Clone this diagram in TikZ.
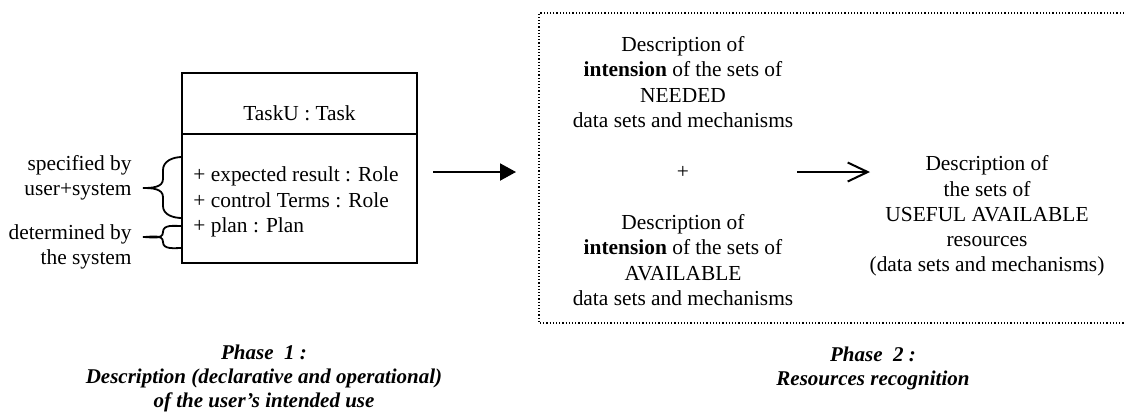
\documentclass[tikz,border=0pt]{standalone}
\usepackage{fontspec}
\setmainfont{Liberation Serif}
\usetikzlibrary{arrows.meta}
\usetikzlibrary{positioning}

\begin{document}
\begin{tikzpicture}[x=0.5pt, y=-0.5pt, font=\fontsize{10.7}{12.6}\selectfont,
  txt/.style={align=center, inner sep=0pt},
  phase/.style={align=center, inner sep=0pt, font=\fontsize{10.5}{12}\selectfont\bfseries\itshape},
  bracepath/.style={line width=0.9pt}]
\useasboundingbox (0,0) rectangle (1124,414);

%draw task box
\draw[line width=1pt] (182,73) rectangle (417,263);
\draw[line width=1pt] (182,134) -- (417,134);
\coordinate (taskE) at (417,172);
\node[txt] (title) at (299.5,113) {TaskU : Task};
\node[txt, align=left, anchor=west] (attrs) at (193,202) {+ expected result : Role\\+ control Terms : Role\\+ plan : Plan};

%draw braces
\draw[bracepath] (182,157) to[out=180,in=90] (163,170) -- (163,179) to[out=-90,in=0] (143,188)
  to[out=0,in=90] (163,197) -- (163,206) to[out=-90,in=180] (182,218);
\draw[bracepath] (182,226) to[out=180,in=90] (163,232) to[out=-90,in=0] (143,237)
  to[out=0,in=90] (163,242) to[out=-90,in=180] (182,248);
\node[txt, align=right, anchor=east] (spec) at (132,178) {specified by\\user+system};
\node[txt, align=right, anchor=east] (det) at (132,246.5) {determined by\\the system};

%draw dotted box
\coordinate (dtl) at (539,13);
\coordinate (dbl) at (539,323);
\draw[line width=0.6pt, dash pattern=on 0.6pt off 1pt] (1124,13) -- (dtl) -- (dbl) -- (1124,323);
\coordinate (dW) at (539,172);

\node[txt] (needed) at (683,82) {Description of\\\textbf{intension} of the sets of\\NEEDED\\data sets and mechanisms};
\node[txt] (plus) at (683,172) {+};
\node[txt] (avail) at (683,260) {Description of\\\textbf{intension} of the sets of\\AVAILABLE\\data sets and mechanisms};
\node[txt] (useful) at (987,216) {Description of\\the sets of\\USEFUL AVAILABLE\\resources\\(data sets and mechanisms)};
\coordinate (usefulW) at (870,172);

%draw arrows
\draw[line width=1pt, -{Triangle[length=8pt,width=8.5pt]}, shorten <=8pt, shorten >=11.5pt] (taskE) -- (dW);
\draw[line width=1pt, -{Straight Barb[length=10pt,width=9.5pt]}, shorten <=57pt] (plus.center) -- (usefulW);

%phase captions
\node[phase] (ph1) at (264,378) {Phase\ \ 1 :\\Description (declarative and operational)\\of the user's intended use};
\node[phase] (ph2) at (873,368) {Phase\ \ 2 :\\Resources recognition};
\end{tikzpicture}
\end{document}
